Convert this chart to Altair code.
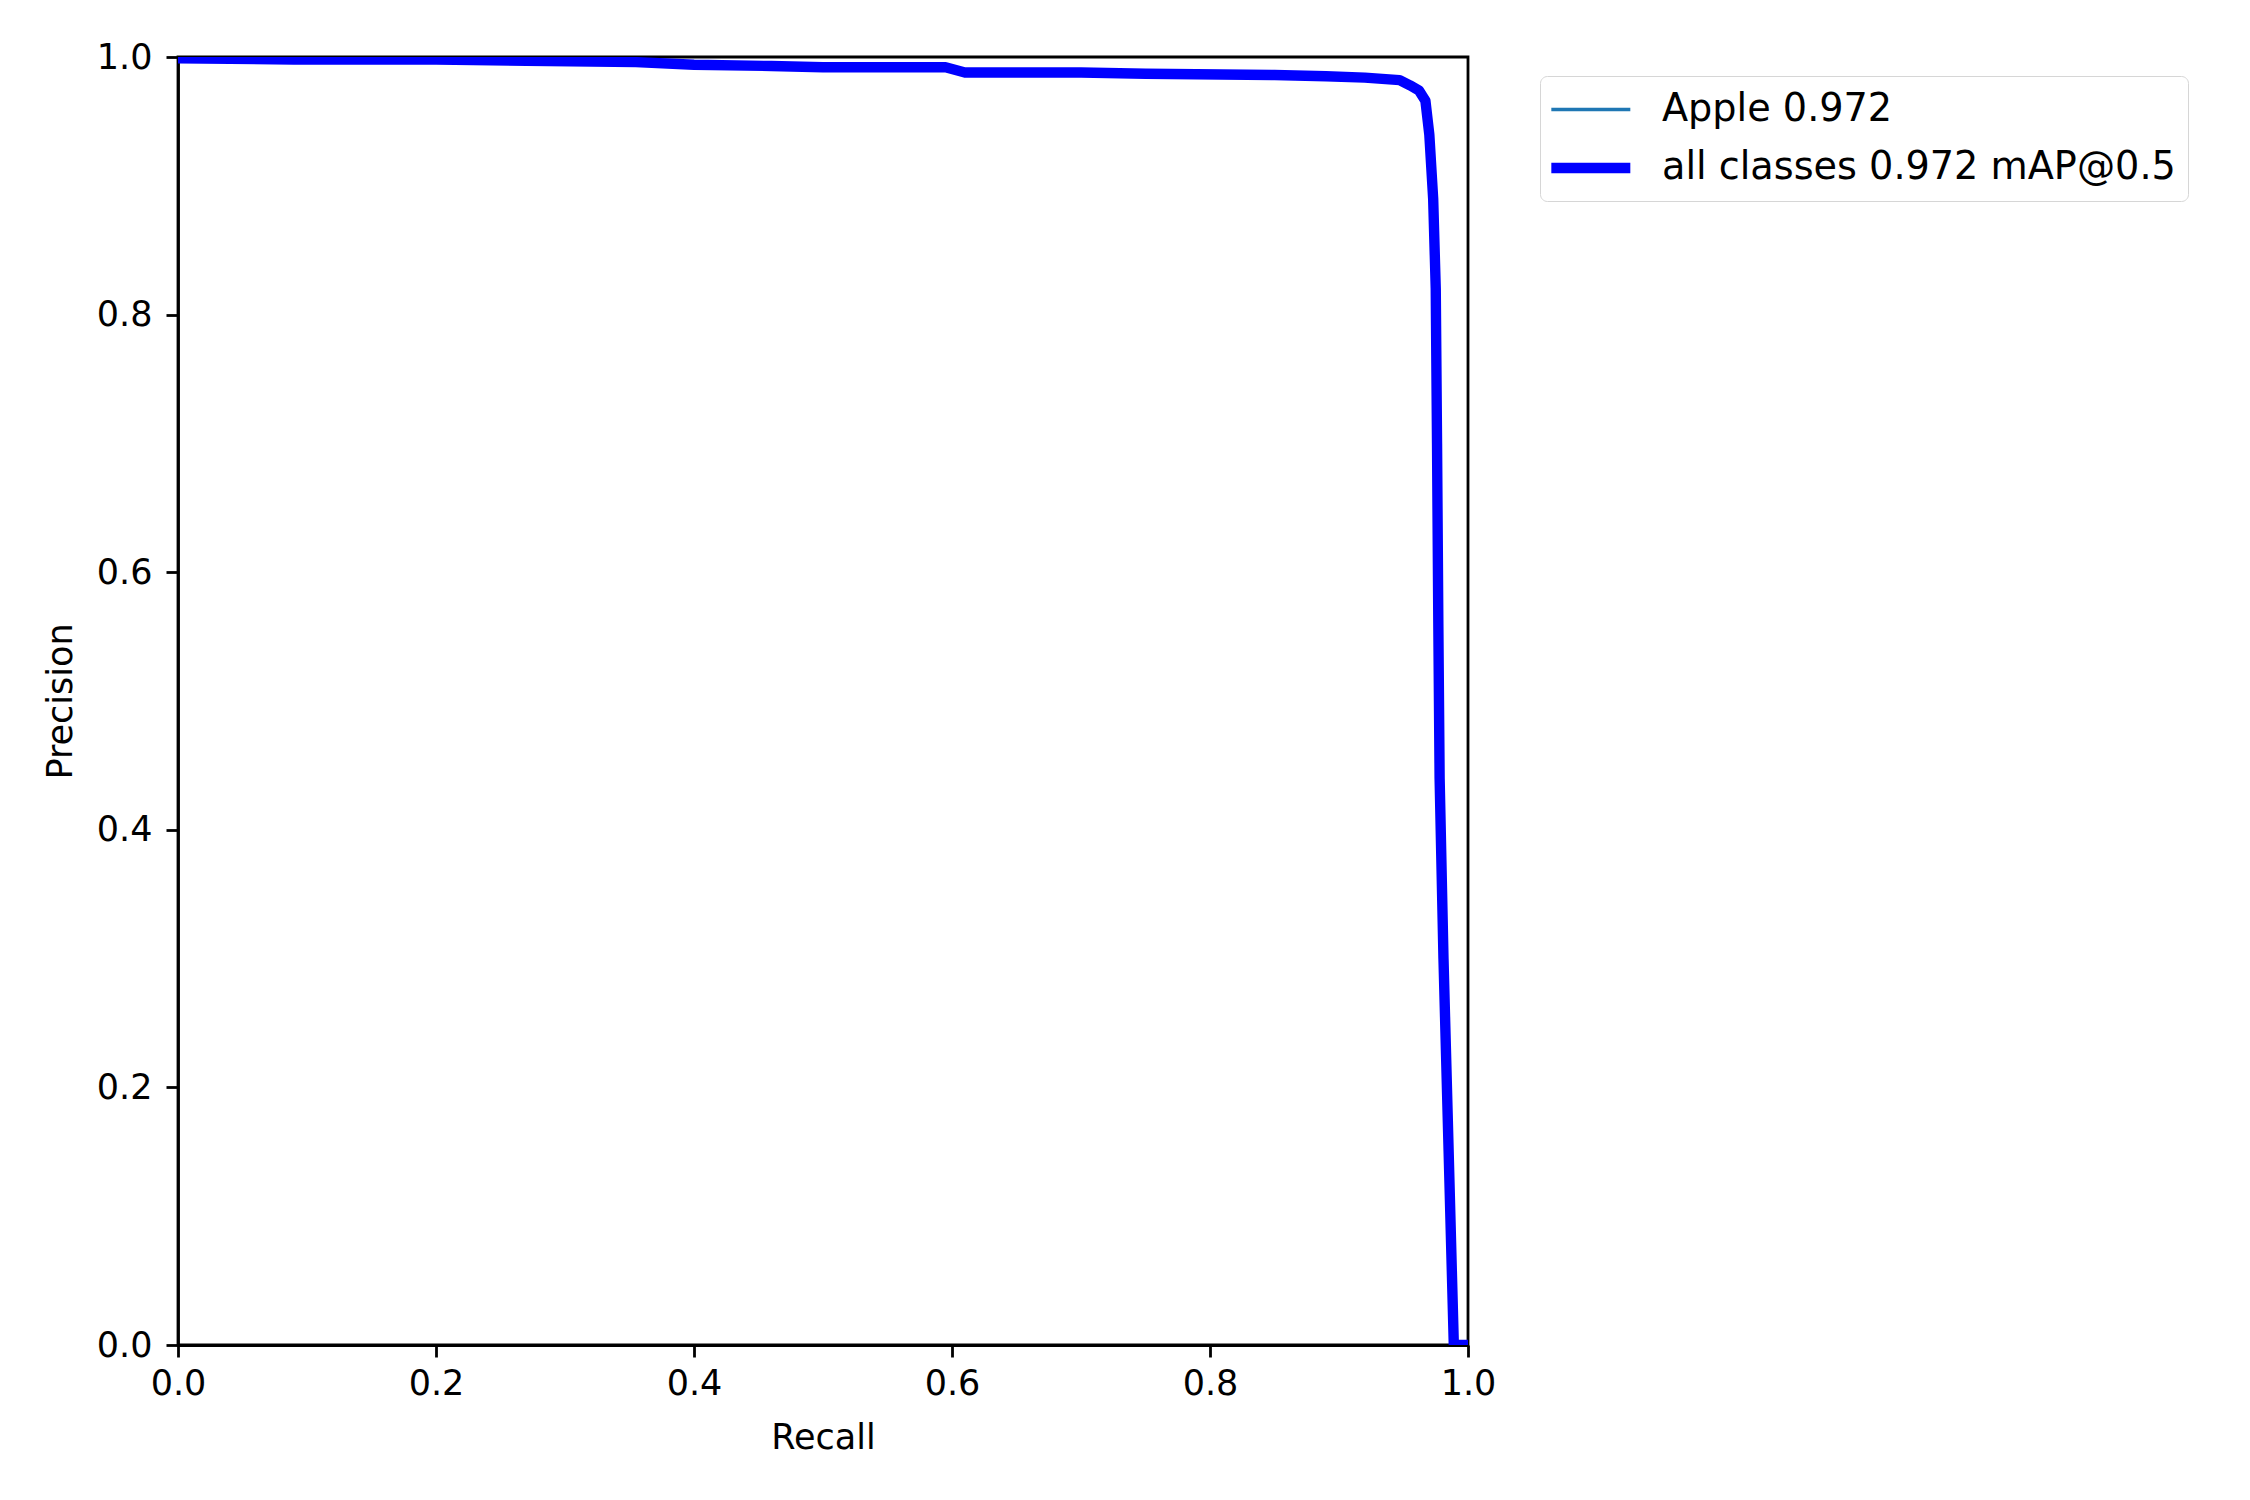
import altair as alt
import pandas as pd

# Precision-recall curve
recall = [0.0, 0.09, 0.2, 0.27, 0.355, 0.40, 0.46, 0.50, 0.595, 0.61, 0.70, 0.75,
          0.85, 0.89, 0.92, 0.947, 0.955, 0.962, 0.967, 0.970, 0.973, 0.975, 0.976,
          0.977, 0.978, 0.981, 0.985, 0.989, 1.0]
precision = [0.999, 0.998, 0.998, 0.997, 0.996, 0.994, 0.993, 0.992, 0.992, 0.988,
             0.988, 0.987, 0.986, 0.985, 0.984, 0.982, 0.978, 0.974, 0.966, 0.94,
             0.89, 0.82, 0.70, 0.56, 0.44, 0.30, 0.15, 0.0, 0.0]
series_names = ["Apple 0.972", "all classes 0.972 mAP@0.5"]
series_colors = ["#1f77b4", "#0000ff"]
series_widths = [3.5, 10.4]
ticks = [0.0, 0.2, 0.4, 0.6, 0.8, 1.0]

rows = []
for s in series_names:
    for r, p in zip(recall, precision):
        rows.append({"series": s, "Recall": r, "Precision": p})
df = pd.DataFrame(rows)

FS = 35
LFS = 38.2
FONT = "DejaVu Sans"


def make_legend():
    return alt.Legend(title=None, orient="none", legendX=1362, legendY=19,
                      symbolType="M-1.3,0L2.7,0", symbolSize=1560,
                      labelFontSize=LFS, labelFont=FONT, labelColor="black",
                      padding=12, strokeColor="#d6d6d6", fillColor="white",
                      cornerRadius=7, labelOffset=60, rowPadding=15,
                      labelLimit=1000)


color = alt.Color("series:N", sort=series_names,
                  scale=alt.Scale(domain=series_names, range=series_colors),
                  legend=make_legend())
width = alt.StrokeWidth("series:N", sort=series_names,
                        scale=alt.Scale(domain=series_names, range=series_widths),
                        legend=make_legend())

x = alt.X("Recall:Q", scale=alt.Scale(domain=[0, 1], nice=False, zero=False),
          axis=alt.Axis(values=ticks, format=".1f", labelPadding=9, labelFlush=False,
                        labelOverlap=False,
                        titleX=645, titleY=92,
                        titleBaseline="middle", titleAlign="center"))
y = alt.Y("Precision:Q", scale=alt.Scale(domain=[0, 1], nice=False, zero=False),
          axis=alt.Axis(values=ticks, format=".1f", labelPadding=14, labelFlush=False,
                        labelOverlap=False,
                        titleX=-118, titleY=644,
                        titleAngle=270, titleBaseline="middle", titleAlign="center"))

base = alt.Chart(df).mark_line(clip=True, strokeCap="square", strokeJoin="round").encode(
    x=x, y=y, color=color, strokeWidth=width, order=alt.Order("Recall:Q"))

l1 = base.transform_filter(alt.datum.series == series_names[0])
l2 = base.transform_filter(alt.datum.series == series_names[1])

chart = alt.layer(l1, l2).properties(
    width=1290, height=1288,
    background="white",
    autosize=alt.AutoSizeParams(type="none"),
    padding={"left": 170, "top": 49, "right": 760, "bottom": 140},
).configure_view(stroke="black", strokeWidth=2.8).configure_axis(
    grid=False, domainColor="black", domainWidth=2.8, tickColor="black", tickWidth=2.8,
    tickSize=12, labelFontSize=FS, labelFont=FONT, labelColor="black",
    titleFontSize=FS, titleFont=FONT, titleColor="black", titleFontWeight="normal"
)

chart.save("out.html", embed_options={"renderer": "svg", "actions": False})
